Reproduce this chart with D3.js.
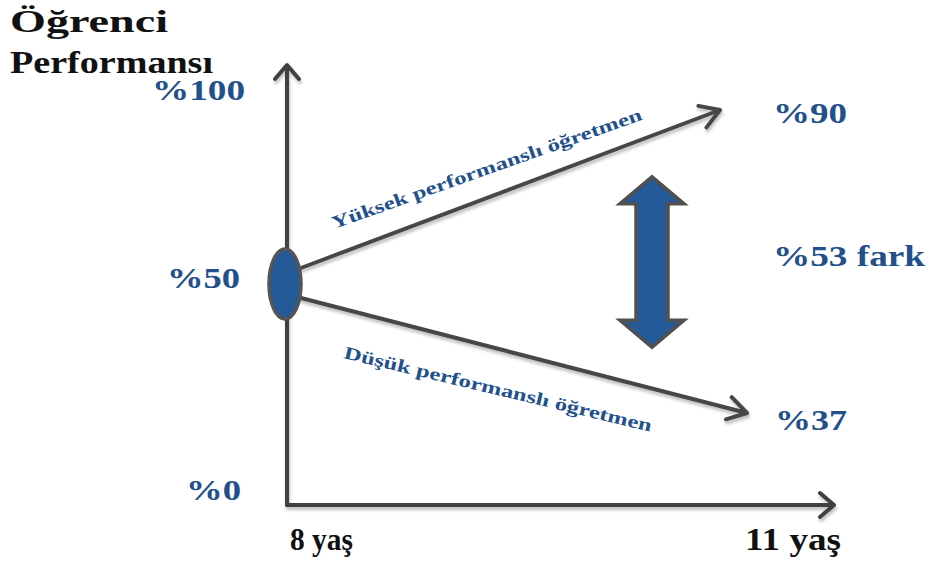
<!DOCTYPE html>
<html><head><meta charset="utf-8">
<script src="https://cdn.jsdelivr.net/npm/d3@7"></script>
<style>html,body{margin:0;padding:0;background:#fff;}svg{display:block;}</style>
</head><body>
<svg id="c" width="930" height="563"></svg>
<script>
// ---- data ----
const ages = [8, 11];
const ageLabels = ["8 yaş", "11 yaş"];
const yTicks = [0, 50, 100];
const yTickLabels = ["%0", "%50", "%100"];
const seriesNames = ["Yüksek performanslı öğretmen", "Düşük performanslı öğretmen"];
const startValues = [50, 50];
const endValues = [90, 37];
const endLabels = ["%90", "%37"];
const gapLabel = "%53 fark";
const titleLines = ["Öğrenci", "Performansı"];

// ---- layout ----
const svg = d3.select("#c");
const blue = "#22508a", dark = "#404040", fill = "#255a98";
const serif = "'Liberation Serif','Times New Roman',serif";

const x = d3.scaleLinear().domain([8, 11]).range([287, 747]);
const y = d3.scaleLinear().domain([0, 37, 50, 90, 100]).range([490, 418, 278, 115, 90]);

const defs = svg.append("defs");
const f = defs.append("filter").attr("id", "sh").attr("x", "-10%").attr("y", "-10%").attr("width", "130%").attr("height", "140%");
f.append("feDropShadow").attr("dx", 1).attr("dy", 3).attr("stdDeviation", 1.6).attr("flood-color", "#000").attr("flood-opacity", 0.25);

// title
titleLines.forEach((t, i) => {
  svg.append("text").attr("x", 10).attr("y", [32, 73][i])
    .attr("font-family", serif).attr("font-weight", "bold").attr("font-size", 31)
    .attr("fill", "#111").attr("textLength", [158, 203][i]).attr("lengthAdjust", "spacingAndGlyphs").text(t);
});

// axes
const ax = svg.append("g").attr("filter", "url(#sh)").attr("fill", "none").attr("stroke", dark)
  .attr("stroke-width", 4).attr("stroke-linecap", "round").attr("stroke-linejoin", "round");
const x0 = x(8), yAx = 505;
ax.append("path").attr("d", `M${x0},${yAx} L${x0},66 M${x0 - 12},79 L${x0},65 L${x0 + 12},79`);
ax.append("path").attr("d", `M${x0},${yAx} L833,${yAx} M820,${yAx - 12} L834,${yAx} L820,${yAx + 12}`);

// y tick labels
const tickW = {0: 55, 50: 73, 100: 93};
const tickX = {0: 186, 50: 167, 100: 152};
yTicks.forEach((v, i) => {
  svg.append("text").attr("x", tickX[v]).attr("y", y(v) + 10)
    .attr("font-family", serif).attr("font-weight", "bold").attr("font-size", 30).attr("fill", blue)
    .attr("textLength", tickW[v]).attr("lengthAdjust", "spacingAndGlyphs").text(yTickLabels[i]);
});

// x labels
ageLabels.forEach((t, i) => {
  svg.append("text").attr("x", i === 0 ? 290 : 745).attr("y", 550)
    .attr("font-family", serif).attr("font-weight", "bold").attr("font-size", 31).attr("fill", "#111")
    .attr("textLength", i === 0 ? 63 : 96).attr("lengthAdjust", "spacingAndGlyphs").text(t);
});

// series lines with arrowheads
const startY = [y(startValues[0]) - 10, y(startValues[1]) + 20];
const endX = [x(11) - 27, x(11)];
const endY = endValues.map(v => y(v) - 5);
const lg = svg.append("g").attr("filter", "url(#sh)").attr("fill", "none").attr("stroke", "#474747")
  .attr("stroke-width", 4).attr("stroke-linecap", "round").attr("stroke-linejoin", "round");
endValues.forEach((v, i) => {
  const sx = x0 + 14, sy = startY[i], ex = endX[i], ey = endY[i];
  const ang = Math.atan2(ey - sy, ex - sx);
  const L = 22, a = 0.55;
  const p1 = [ex - L * Math.cos(ang - a), ey - L * Math.sin(ang - a)];
  const p2 = [ex - L * Math.cos(ang + a), ey - L * Math.sin(ang + a)];
  lg.append("path").attr("d", `M${sx},${sy} L${ex},${ey} M${p1} L${ex},${ey} L${p2}`);
});

// ellipse at start
svg.append("ellipse").attr("cx", x0 - 2).attr("cy", y(50) + 6).attr("rx", 16).attr("ry", 35)
  .attr("fill", fill).attr("stroke", "#555").attr("stroke-width", 3.5);

// end labels
endLabels.forEach((t, i) => {
  svg.append("text").attr("x", [773, 775][i]).attr("y", y(endValues[i]) + [8, 12][i])
    .attr("font-family", serif).attr("font-weight", "bold").attr("font-size", 30).attr("fill", blue)
    .attr("textLength", [74, 72][i]).attr("lengthAdjust", "spacingAndGlyphs").text(t);
});

// series labels along lines
svg.append("text").attr("transform", "translate(334,229) rotate(-19.5)")
  .attr("font-family", serif).attr("font-weight", "bold").attr("font-size", 18).attr("fill", blue)
  .attr("textLength", 328).attr("lengthAdjust", "spacingAndGlyphs").text(seriesNames[0]);
svg.append("text").attr("transform", "translate(343,358) rotate(13.5)")
  .attr("font-family", serif).attr("font-weight", "bold").attr("font-size", 18).attr("fill", blue)
  .attr("textLength", 316).attr("lengthAdjust", "spacingAndGlyphs").text(seriesNames[1]);

// double arrow showing gap, centered between lines at its x
const ax2 = 652;
const lineYAt = i => startY[i] + (endY[i] - startY[i]) * (ax2 - (x0 + 14)) / (endX[i] - (x0 + 14));
const yTop = lineYAt(0), yBot = lineYAt(1);
const mid = (yTop + yBot) / 2, half = (yBot - yTop) * 0.337;
const t = mid - half, b = mid + half, hw = 32, sw = 16, hh = 27;
const pts = [[ax2, t], [ax2 + hw, t + hh], [ax2 + sw, t + hh], [ax2 + sw, b - hh], [ax2 + hw, b - hh], [ax2, b],
  [ax2 - hw, b - hh], [ax2 - sw, b - hh], [ax2 - sw, t + hh], [ax2 - hw, t + hh]];
svg.append("path").attr("d", d3.line()(pts) + "Z").attr("fill", fill).attr("stroke", "#505050")
  .attr("stroke-width", 3.5).attr("stroke-linejoin", "miter");

svg.append("text").attr("x", 773).attr("y", mid + 4)
  .attr("font-family", serif).attr("font-weight", "bold").attr("font-size", 30).attr("fill", blue)
  .attr("textLength", 152).attr("lengthAdjust", "spacingAndGlyphs").text(gapLabel);
</script>
</body></html>
